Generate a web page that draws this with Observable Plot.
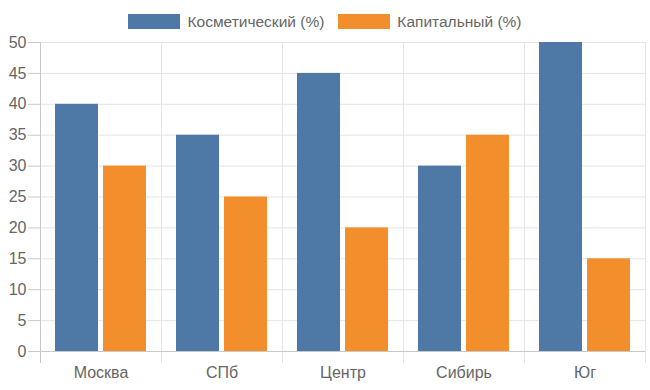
<!DOCTYPE html>
<html><head><meta charset="utf-8">
<script src="https://cdn.jsdelivr.net/npm/d3@7"></script>
<script src="https://cdn.jsdelivr.net/npm/@observablehq/plot@0.6"></script>
<style>
body{margin:0;background:#fff;font-family:"Liberation Sans",Arial,sans-serif;}
#legend{height:30px;box-sizing:border-box;padding-top:14px;display:flex;justify-content:center;align-items:flex-start;color:#666;font-size:15.5px;line-height:15px;}
.item{display:flex;align-items:center;margin:0 7px;}
.box{width:52px;height:15px;margin-right:7px;}
</style></head><body>
<div id="legend"></div>
<div id="chart"></div>
<script>
const regions = ["Москва", "СПб", "Центр", "Сибирь", "Юг"];
const seriesNames = ["Косметический (%)", "Капитальный (%)"];
const cosmetic = [40, 35, 45, 30, 50];
const capital = [30, 25, 20, 35, 15];
const colors = ["#4e79a7", "#f28e2b"];
const yTicks = [0, 5, 10, 15, 20, 25, 30, 35, 40, 45, 50];

const data = [];
regions.forEach((r, i) => {
  data.push({region: r, series: seriesNames[0], value: cosmetic[i]});
  data.push({region: r, series: seriesNames[1], value: capital[i]});
});

const legend = document.getElementById("legend");
seriesNames.forEach((s, i) => {
  const it = document.createElement("div");
  it.className = "item";
  const b = document.createElement("div");
  b.className = "box";
  b.style.background = colors[i];
  const t = document.createElement("span");
  t.textContent = s;
  it.appendChild(b); it.appendChild(t);
  legend.appendChild(it);
});

const grid = "#e5e5e5";
const axisCol = "#c8c8c8";

const chart = Plot.plot({
  width: 650,
  height: 360,
  marginTop: 12,
  marginBottom: 39,
  marginLeft: 39,
  marginRight: 4,
  style: {fontFamily: "Liberation Sans, Arial, sans-serif", fontSize: "16px", color: "#666", background: "#fff", overflow: "visible"},
  fx: {domain: regions, paddingInner: 0, paddingOuter: 0, label: null},
  x: {domain: seriesNames, paddingInner: 0.102, paddingOuter: 0.29, axis: null},
  y: {domain: [0, 50], label: null},
  color: {domain: seriesNames, range: colors},
  marks: [
    Plot.gridY(yTicks, {stroke: grid, strokeOpacity: 1}),
    Plot.frame({anchor: "left", stroke: grid, insetBottom: -11}),
    Plot.frame({anchor: "right", stroke: grid, insetBottom: -11}),
    Plot.frame({anchor: "left", stroke: axisCol, insetBottom: -11, facetAnchor: "left"}),
    Plot.barY(data, {fx: "region", x: "series", y: "value", fill: "series"}),
    Plot.ruleY([0], {stroke: axisCol}),
    Plot.axisY(yTicks, {tickSize: 12, tickPadding: 2, stroke: axisCol, fill: "#666", label: null}),
    Plot.axisFx({anchor: "bottom", tickSize: 0, tickPadding: 15, fill: "#666", label: null})
  ]
});
document.getElementById("chart").appendChild(chart);
</script>
</body></html>
